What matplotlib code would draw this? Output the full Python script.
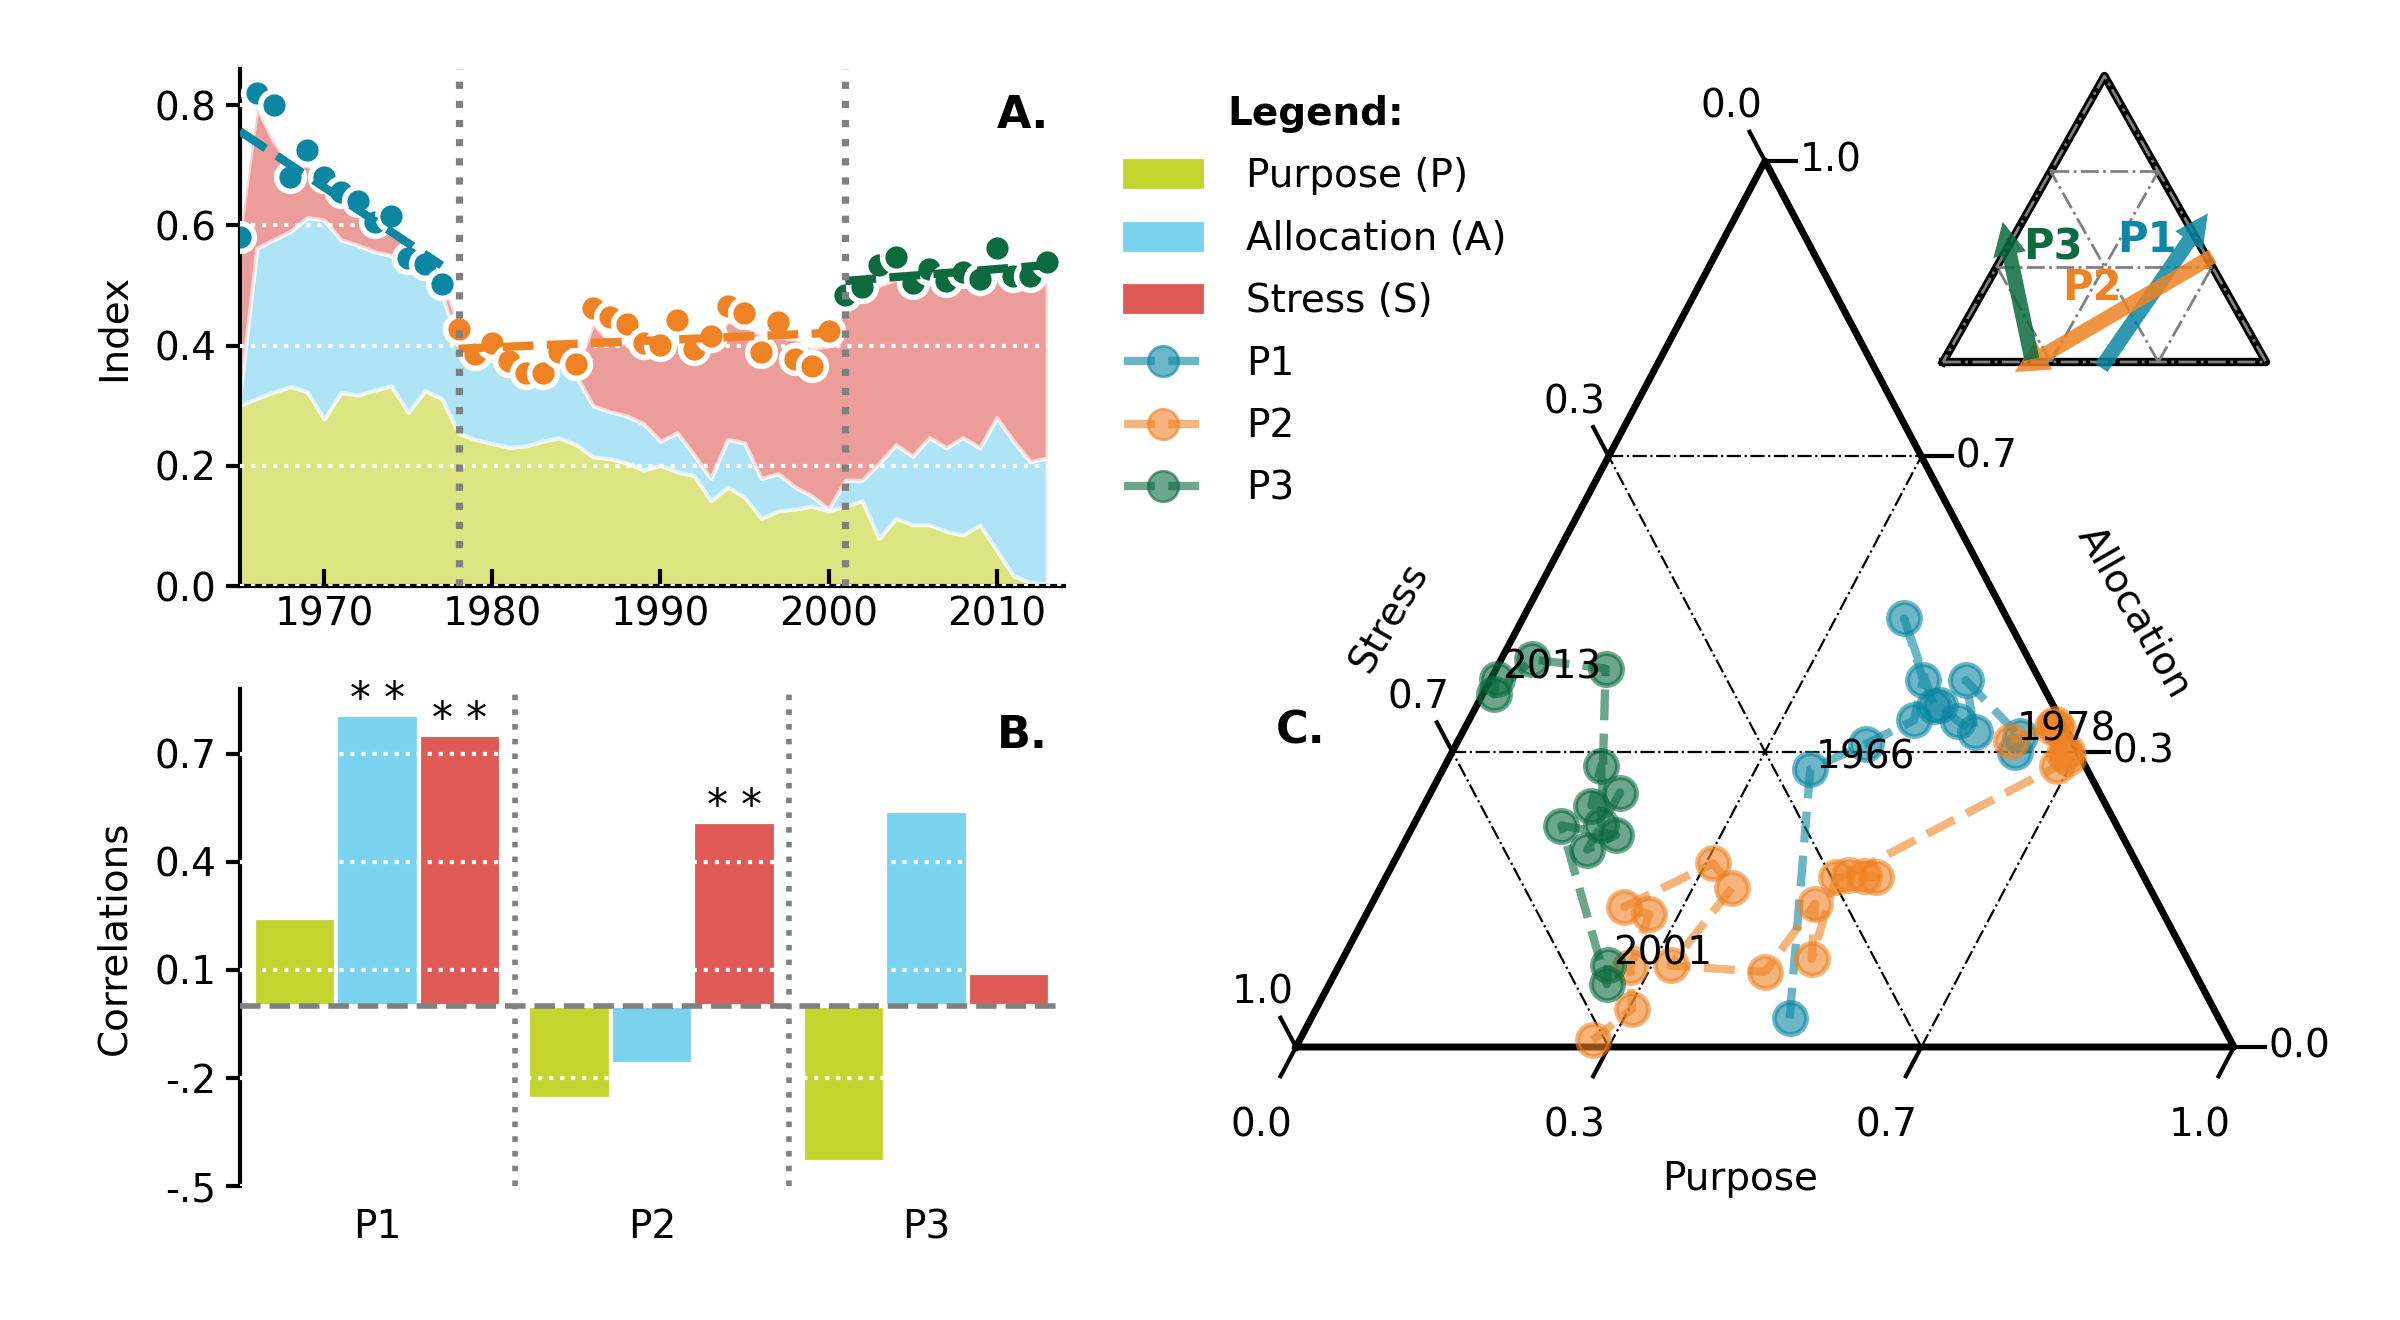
import numpy as np
import matplotlib
matplotlib.use("Agg")
import matplotlib.pyplot as plt
from matplotlib.patches import Patch
from matplotlib.lines import Line2D

plt.rcParams['font.family'] = 'DejaVu Sans'
plt.rcParams['font.size'] = 14

# ---------------- data ----------------
years = np.arange(1965, 2014)
purpose = [0.301, 0.312, 0.323, 0.332, 0.323, 0.278, 0.322, 0.318, 0.326, 0.333, 0.289, 0.325, 0.312,
           0.254, 0.244, 0.237, 0.231, 0.233, 0.241, 0.247, 0.235, 0.215, 0.212, 0.205, 0.193, 0.201,
           0.190, 0.184, 0.142, 0.165, 0.148, 0.113, 0.125, 0.128, 0.133, 0.125,
           0.133, 0.142, 0.079, 0.113, 0.102, 0.102, 0.091, 0.085, 0.102, 0.060, 0.017, 0.006, 0.003]
allocation = [0.019, 0.250, 0.253, 0.258, 0.290, 0.331, 0.254, 0.249, 0.230, 0.217, 0.236, 0.191, 0.173,
              0.149, 0.141, 0.138, 0.131, 0.119, 0.119, 0.125, 0.114, 0.085, 0.078, 0.078, 0.077, 0.040,
              0.065, 0.034, 0.037, 0.079, 0.090, 0.066, 0.062, 0.037, 0.017, 0.003,
              0.043, 0.034, 0.125, 0.122, 0.114, 0.145, 0.139, 0.162, 0.128, 0.220, 0.224, 0.201, 0.210]
stress = [0.270, 0.235, 0.164, 0.110, 0.087, 0.075, 0.084, 0.078, 0.069, 0.060, 0.045, 0.029, 0.035,
          0.028, 0.005, 0.003, 0.003, 0.004, 0.005, 0.006, 0.011, 0.137, 0.116, 0.120, 0.132, 0.161,
          0.147, 0.184, 0.223, 0.196, 0.196, 0.238, 0.227, 0.246, 0.245, 0.272,
          0.289, 0.304, 0.296, 0.275, 0.296, 0.258, 0.280, 0.263, 0.280, 0.235, 0.271, 0.298, 0.292]

p1_years = np.arange(1965, 1978)
p1_index = [0.58, 0.82, 0.80, 0.68, 0.725, 0.68, 0.655, 0.64, 0.605, 0.615, 0.545, 0.535, 0.503]
p2_years = np.arange(1978, 2001)
p2_index = [0.428, 0.386, 0.404, 0.375, 0.354, 0.354, 0.389, 0.369, 0.463, 0.448, 0.436, 0.404,
            0.401, 0.442, 0.395, 0.416, 0.466, 0.454, 0.389, 0.439, 0.378, 0.366, 0.425]
p3_years = np.arange(2001, 2014)
p3_index = [0.484, 0.498, 0.534, 0.548, 0.504, 0.528, 0.507, 0.522, 0.510, 0.563, 0.516, 0.516, 0.539]
breaks = [1978, 2001]

groups = ['P1', 'P2', 'P3']
corr_purpose = [0.243, -0.257, -0.432]
corr_allocation = [0.808, -0.161, 0.541]
corr_stress = [0.752, 0.510, 0.092]
signif_allocation = [True, False, False]
signif_stress = [True, True, False]

label_years = [1966, 1978, 2001, 2013]

# inset trend arrows (purpose share, allocation share)
arrow_from = {'P1': (0.50, -0.02), 'P2': (0.65, 0.37), 'P3': (0.27, 0.01)}
arrow_to = {'P1': (0.56, 0.52), 'P2': (0.24, -0.035), 'P3': (-0.06, 0.49)}

c_pur, c_all, c_str = '#c5d52f', '#79d3ef', '#e05a55'
c_per = {'P1': '#0b86a3', 'P2': '#ef8323', 'P3': '#0b6b3e'}


def tern_xy(p, a):
    p = np.asarray(p, dtype=float)
    a = np.asarray(a, dtype=float)
    return p + a / 2, a


fig = plt.figure(figsize=(12, 6.6), dpi=200)

# ---------------- panel A ----------------
ax = fig.add_axes([0.100, 0.556, 0.3433, 0.3917])
ax.stackplot(years, purpose, allocation, stress, colors=[c_pur, c_all, c_str],
             alpha=0.6, edgecolor='white', linewidth=1.5)
for yrs, idx, key in [(p1_years, p1_index, 'P1'), (p2_years, p2_index, 'P2'), (p3_years, p3_index, 'P3')]:
    ax.plot(yrs, idx, 'o', color=c_per[key], mec='white', mew=2, ms=10, zorder=3)
    k, b = np.polyfit(yrs, idx, 1)
    ax.plot(yrs, k * yrs + b, '--', color=c_per[key], lw=3, zorder=4)
for br in breaks:
    ax.axvline(br, color='gray', ls=':', lw=2.6, zorder=5)
ax.set_xlim(1965, 2014)
ax.set_ylim(0, 0.86)
ax.set_yticks([0.0, 0.2, 0.4, 0.6, 0.8])
ax.set_xticks([1970, 1980, 1990, 2000, 2010])
ax.yaxis.grid(True, color='white', ls=':', lw=1.5)
ax.set_axisbelow(False)
ax.spines[['top', 'right']].set_visible(False)
ax.spines[['left', 'bottom']].set_linewidth(1.5)
ax.tick_params(axis='x', direction='in', length=6, width=1.5)
ax.tick_params(axis='y', direction='out', length=5, width=1.5)
ax.set_ylabel('Index')
ax.yaxis.set_label_coords(-0.13, 0.5)
ax.text(0.95, 0.91, 'A.', transform=ax.transAxes, ha='center', va='center',
        fontsize=16, fontweight='bold')

# ---------------- panel B ----------------
bx = fig.add_axes([0.100, 0.1015, 0.3433, 0.3765])
x = np.arange(len(groups))
w = 0.3
bx.bar(x - w, corr_purpose, w, color=c_pur, edgecolor='white', lw=1.5)
bx.bar(x, corr_allocation, w, color=c_all, edgecolor='white', lw=1.5)
bx.bar(x + w, corr_stress, w, color=c_str, edgecolor='white', lw=1.5)
for xs, vals, sig in [(x, corr_allocation, signif_allocation), (x + w, corr_stress, signif_stress)]:
    for xi, v, s in zip(xs, vals, sig):
        if s:
            bx.annotate('* *', (xi, v), xytext=(0, -2), textcoords='offset points',
                        ha='center', va='bottom', fontsize=15)
bx.axhline(0, color='gray', ls='--', lw=2, zorder=3)
for sep in (0.5, 1.5):
    bx.axvline(sep, color='gray', ls=':', lw=2, zorder=3)
bx.set_xlim(-0.5, 2.5)
bx.set_ylim(-0.5, 0.88)
bx.set_yticks([0.7, 0.4, 0.1, -0.2, -0.5])
bx.set_yticklabels(['0.7', '0.4', '0.1', '-.2', '-.5'])
bx.set_xticks(x)
bx.set_xticklabels(groups)
bx.yaxis.grid(True, color='white', ls=':', lw=1.5)
bx.set_axisbelow(False)
bx.spines[['top', 'right', 'bottom']].set_visible(False)
bx.spines['left'].set_linewidth(1.5)
bx.tick_params(axis='x', length=0, pad=8)
bx.tick_params(axis='y', direction='out', length=5, width=1.5)
bx.set_ylabel('Correlations')
bx.yaxis.set_label_coords(-0.13, 0.5)
bx.text(0.95, 0.907, 'B.', transform=bx.transAxes, ha='center', va='center',
        fontsize=16, fontweight='bold')

# ---------------- legend ----------------
handles = [Patch(color=c_pur), Patch(color=c_all), Patch(color=c_str)]
for key in groups:
    handles.append(Line2D([], [], color=c_per[key], ls='--', marker='o', lw=3, ms=11, alpha=0.6))
leg = fig.legend(handles, ['Purpose (P)', 'Allocation (A)', 'Stress (S)', 'P1', 'P2', 'P3'],
                 loc='upper left', bbox_to_anchor=(0.462, 0.940), frameon=False,
                 title='Legend:', title_fontproperties={'weight': 'bold', 'size': 14},
                 handletextpad=1.13, labelspacing=0.63, borderaxespad=0, fontsize=14)

# ---------------- panel C: ternary ----------------
tx = fig.add_axes([1296 / 2400, 1 - 1047 / 1320, 938 / 2400, 886 / 1320])
tx.set_xlim(0, 1)
tx.set_ylim(0, 1)
tx.axis('off')

tx.plot([0, 1, 0.5, 0], [0, 0, 1, 0], color='black', lw=2.5, clip_on=False, zorder=2)
for v in (1 / 3, 2 / 3):
    for xs_, ys_ in [([v / 2, 1 - v / 2], [v, v]),
                     ([v, v + (1 - v) / 2], [0, 1 - v]),
                     ([1 - v, (1 - v) / 2], [0, 1 - v])]:
        tx.plot(xs_, ys_, color='black', ls='-.', lw=0.8, zorder=1)

off = 0.033
for v in (0, 1 / 3, 2 / 3, 1):
    lab = '%.1f' % v
    # bottom: purpose
    tx.plot([v, v - 0.5 * off], [0, -off], color='black', lw=1.5, clip_on=False)
    tx.text(v - 0.037, -0.089, lab, ha='center', va='center')
    # left: stress
    xl, yl = (1 - v) / 2, 1 - v
    tx.plot([xl, xl - 0.5 * off], [yl, yl + off], color='black', lw=1.5, clip_on=False)
    tx.text(xl - 0.036, yl + 0.061, lab, ha='center', va='center')
    # right: allocation
    xr, yr = 1 - v / 2, v
    tx.plot([xr, xr + off], [yr, yr], color='black', lw=1.5, clip_on=False)
    tx.text(xr + 0.070, yr, lab, ha='center', va='center')

tx.text(0.473, -0.149, 'Purpose', ha='center', va='center')
tx.text(0.100, 0.485, 'Stress', ha='center', va='center', rotation=60)
tx.text(0.894, 0.491, 'Allocation', ha='center', va='center', rotation=-60)

pur = np.array(purpose)
alc = np.array(allocation)
strs = np.array(stress)
tot = pur + alc + strs
tern_x, tern_y = tern_xy(pur / tot, alc / tot)
for key, sl in [('P1', slice(0, 13)), ('P2', slice(13, 36)), ('P3', slice(36, 49))]:
    tx.plot(tern_x[sl], tern_y[sl], ls='--', marker='o', color=c_per[key], alpha=0.6,
            lw=3, ms=11.5, mew=1.8, clip_on=False, zorder=3)
for yr in label_years:
    i = yr - years[0]
    tx.annotate(str(yr), (tern_x[i], tern_y[i]), xytext=(2, 4), textcoords='offset points',
                ha='left', va='center', zorder=5)

fig.text(1301 / 2400, 1 - 731 / 1320, 'C.', ha='center', va='center', fontsize=16, fontweight='bold')

# ---------------- inset: trend arrows ----------------
ix = fig.add_axes([1943 / 2400, 1 - 362 / 1320, 323 / 2400, 286 / 1320])
ix.set_xlim(0, 1)
ix.set_ylim(0, 1)
ix.axis('off')
ix.plot([0, 1, 0.5, 0], [0, 0, 1, 0], color='black', lw=3, clip_on=False)
ix.plot([0, 1, 0.5, 0], [0, 0, 1, 0], color='gray', ls='-.', lw=1, clip_on=False)
for v in (1 / 3, 2 / 3):
    for xs_, ys_ in [([v / 2, 1 - v / 2], [v, v]),
                     ([v, v + (1 - v) / 2], [0, 1 - v]),
                     ([1 - v, (1 - v) / 2], [0, 1 - v])]:
        ix.plot(xs_, ys_, color='gray', ls='-.', lw=1)
for key in groups:
    x0, y0 = tern_xy(*arrow_from[key])
    x1, y1 = tern_xy(*arrow_to[key])
    ix.annotate('', xy=(x1, y1), xytext=(x0, y0),
                arrowprops=dict(arrowstyle='simple,head_width=1.0,head_length=1.0,tail_width=0.45',
                                mutation_scale=12, color=c_per[key], alpha=0.85, lw=0,
                                shrinkA=0, shrinkB=0), annotation_clip=False)
ix.text(0.34, 0.40, 'P3', color=c_per['P3'], ha='center', va='center', fontsize=15, fontweight='bold')
ix.text(0.632, 0.427, 'P1', color=c_per['P1'], ha='center', va='center', fontsize=15, fontweight='bold')
ix.text(0.46, 0.259, 'P2', color=c_per['P2'], ha='center', va='center', fontsize=15, fontweight='bold')

fig.savefig('out.png', dpi=200)
